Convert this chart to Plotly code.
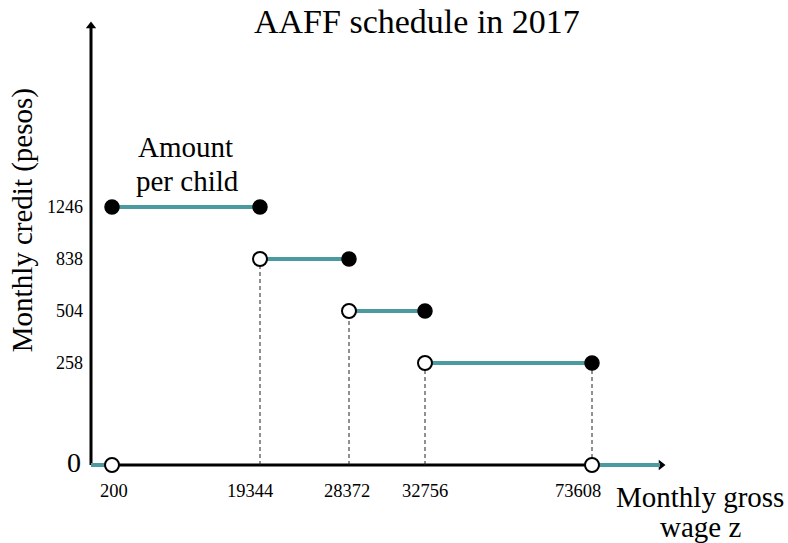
import plotly.graph_objects as go

# ---- data (schematic positions, the chart is not to scale) ----
wage_labels = ["200", "19344", "28372", "32756", "73608"]
wage_pos = [21, 169, 258, 334, 501]          # schematic x positions of the wage thresholds
credit_labels = ["1246", "838", "504", "258"]
credit_pos = [258, 206, 154, 102]            # schematic y positions of the credit levels
x_axis_end = 574
y_axis_end = 443
tail_end = 569

# label nudges (styling only)
wage_label_shift = [2, -10, -2, 0, -14]

TEAL = "#4b9aa0"
FONT = "Liberation Serif"

fig = go.Figure()

# axes (drawn as lines with arrow heads)
fig.add_trace(go.Scatter(x=[0, x_axis_end - 4], y=[0, 0], mode="lines",
                         line=dict(color="black", width=3), hoverinfo="skip"))
fig.add_trace(go.Scatter(x=[0, 0], y=[0, y_axis_end - 4], mode="lines",
                         line=dict(color="black", width=3), hoverinfo="skip"))
fig.add_trace(go.Scatter(x=[x_axis_end - 4], y=[0], mode="markers",
                         marker=dict(symbol="triangle-right", size=9, color="black"),
                         hoverinfo="skip", cliponaxis=False))
fig.add_trace(go.Scatter(x=[0], y=[y_axis_end - 4], mode="markers",
                         marker=dict(symbol="triangle-up", size=9, color="black"),
                         hoverinfo="skip", cliponaxis=False))

# dashed guides
for i in range(1, len(wage_pos)):
    top = credit_pos[min(i, len(credit_pos) - 1)]
    fig.add_trace(go.Scatter(x=[wage_pos[i], wage_pos[i]], y=[0, top], mode="lines",
                             line=dict(color="#222222", width=1, dash="4px,3px"),
                             hoverinfo="skip"))

# step segments
levels = [0] + credit_pos + [0]
bounds = [0] + wage_pos + [tail_end]
for k in range(len(levels)):
    fig.add_trace(go.Scatter(x=[bounds[k], bounds[k + 1]], y=[levels[k], levels[k]],
                             mode="lines", line=dict(color=TEAL, width=4),
                             hoverinfo="skip"))

# markers
open_x = [wage_pos[0]] + wage_pos[1:4] + [wage_pos[4]]
open_y = [0] + credit_pos[1:4] + [0]
filled_x = [wage_pos[0], wage_pos[1], wage_pos[2], wage_pos[3], wage_pos[4]]
filled_y = [credit_pos[0], credit_pos[0], credit_pos[1], credit_pos[2], credit_pos[3]]
fig.add_trace(go.Scatter(x=filled_x, y=filled_y, mode="markers",
                         marker=dict(size=14, color="black", line=dict(color="black", width=1.5)),
                         hoverinfo="skip", cliponaxis=False))
fig.add_trace(go.Scatter(x=open_x, y=open_y, mode="markers",
                         marker=dict(size=14, color="white", line=dict(color="black", width=2)),
                         hoverinfo="skip", cliponaxis=False))


def txt(text, x, y, size, xref="paper", yref="paper", **kw):
    d = dict(x=x, y=y, xref=xref, yref=yref, text=text, showarrow=False,
             xanchor=kw.pop("xanchor", "center"), yanchor=kw.pop("yanchor", "middle"),
             font=dict(family=FONT, size=size, color="black"))
    d.update(kw)
    return d


annotations = []
for lab, yp in zip(credit_labels, credit_pos):
    annotations.append(txt(lab, 0, yp, 18, yref="y", xanchor="right", xshift=4))
for lab, xp, sh in zip(wage_labels, wage_pos, wage_label_shift):
    annotations.append(txt(lab, xp, 0, 18.5, xref="x", yanchor="top", yshift=-4, xshift=sh))
annotations.append(txt("0", 0, 3, 28, yref="y", xanchor="right", xshift=2))
annotations.append(txt("Amount", 94, 318, 29, xref="x", yref="y"))
annotations.append(txt("per child", 96, 284, 29, xref="x", yref="y"))
annotations.append(txt("AAFF schedule in 2017", 0.551, 1, 34, yshift=-1))
annotations.append(txt("Monthly gross", 1.0148, -0.048, 29))
annotations.append(txt("wage z", 1.0148, -0.114, 29))
annotations.append(txt("Monthly credit (pesos)", -0.0967, 0.56, 29, textangle=-90))

fig.update_layout(
    width=788, height=543,
    margin=dict(l=81, r=97, t=20, b=68),
    paper_bgcolor="white", plot_bgcolor="white",
    showlegend=False,
    annotations=annotations,
    xaxis=dict(range=[-10, 600], showgrid=False, zeroline=False, showline=False,
               showticklabels=False, ticks="", fixedrange=True),
    yaxis=dict(range=[-10, 445], showgrid=False, zeroline=False, showline=False,
               showticklabels=False, ticks="", fixedrange=True),
)

fig.write_html("out.html", config={"displayModeBar": False},
               post_script="document.body.style.margin='0';")
